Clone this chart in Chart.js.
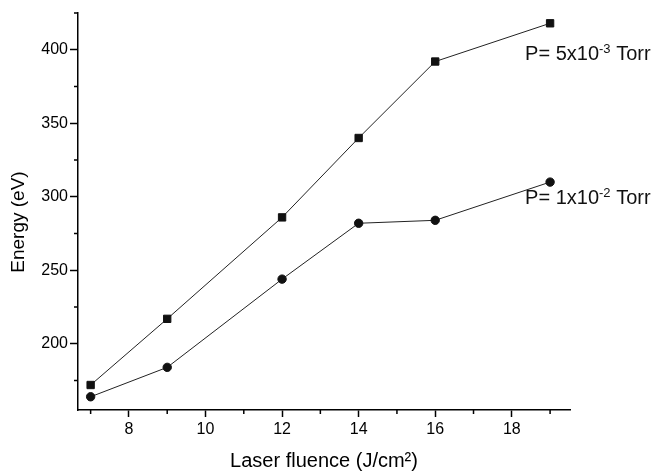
<!DOCTYPE html>
<html>
<head>
<meta charset="utf-8">
<script src="https://cdn.jsdelivr.net/npm/chart.js@4"></script>
<style>
    html, body { margin: 0; padding: 0; background: #fff; }
</style>
</head>
<body>
<canvas id="energyChart" width="658" height="471"></canvas>
<script>
const fluence = [7, 9, 12, 14, 16, 19];
const energyLowP = [172, 217, 286, 340, 392, 418];
const energyHighP = [164, 184, 244, 282, 284, 310];

const xMajorTicks = [8, 10, 12, 14, 16, 18];
const xMinorTicks = [7, 9, 11, 13, 15, 17, 19];
const yMajorTicks = [200, 250, 300, 350, 400];
const yMinorTicks = [175, 225, 275, 325, 375, 425];

// label text: base, exponent, unit
const pressureBase = ['P= 5x10', 'P= 1x10'];
const pressureExp = ['-3', '-2'];
const pressureUnit = ' Torr';

const FONT = '"Liberation Sans", Arial, sans-serif';

// small ticks between the labelled ones
const minorTicks = {
    id: 'minorTicks',
    afterDraw(chart) {
        const { ctx, scales: { x, y } } = chart;
        ctx.save();
        ctx.strokeStyle = '#000';
        ctx.lineWidth = 1.5;
        ctx.beginPath();
        xMinorTicks.forEach(v => {
            const px = x.getPixelForValue(v);
            ctx.moveTo(px, x.top);
            ctx.lineTo(px, x.top + 4);
        });
        yMinorTicks.forEach(v => {
            const py = y.getPixelForValue(v);
            ctx.moveTo(y.right, py);
            ctx.lineTo(y.right - 4, py);
        });
        ctx.stroke();
        ctx.restore();
    }
};

// "P= 5x10^-3 Torr" labels under the last point of each series
const pressureLabels = {
    id: 'pressureLabels',
    afterDatasetsDraw(chart) {
        const { ctx, scales: { x, y } } = chart;
        const drop = [37, 22];
        ctx.save();
        ctx.fillStyle = '#111';
        ctx.textBaseline = 'alphabetic';
        chart.data.datasets.forEach((ds, i) => {
            const last = ds.data.length - 1;
            let px = x.getPixelForValue(fluence[last]) - 25;
            const py = y.getPixelForValue(ds.data[last]) + drop[i];
            ctx.font = '20px ' + FONT;
            ctx.fillText(pressureBase[i], px, py);
            px += ctx.measureText(pressureBase[i]).width;
            ctx.font = '13px ' + FONT;
            ctx.fillText(pressureExp[i], px, py - 7);
            px += ctx.measureText(pressureExp[i]).width;
            ctx.font = '20px ' + FONT;
            ctx.fillText(pressureUnit, px, py);
        });
        ctx.restore();
    }
};

const ctx = document.getElementById('energyChart').getContext('2d');
new Chart(ctx, {
    type: 'line',
    data: {
        labels: fluence,
        datasets: [
            {
                label: 'P= 5x10-3 Torr',
                data: energyLowP,
                borderColor: '#222',
                borderWidth: 1,
                pointStyle: 'rect',
                pointRadius: 5.2,
                pointBackgroundColor: '#111',
                pointBorderColor: '#111',
                pointBorderWidth: 1,
                tension: 0
            },
            {
                label: 'P= 1x10-2 Torr',
                data: energyHighP,
                borderColor: '#222',
                borderWidth: 1,
                pointStyle: 'circle',
                pointRadius: 4.2,
                pointBackgroundColor: '#111',
                pointBorderColor: '#111',
                pointBorderWidth: 1,
                tension: 0
            }
        ]
    },
    options: {
        responsive: false,
        animation: false,
        layout: { padding: { top: 13, right: 88, left: 0, bottom: 0 } },
        plugins: {
            legend: { display: false },
            tooltip: { enabled: false }
        },
        scales: {
            x: {
                type: 'linear',
                min: 6.67,
                max: 19.52,
                afterBuildTicks: axis => { axis.ticks = xMajorTicks.map(v => ({ value: v })); },
                afterFit: axis => { axis.height = 61; },
                grid: {
                    drawOnChartArea: false,
                    tickLength: 7,
                    tickWidth: 1.5,
                    tickColor: '#000'
                },
                border: { display: true, color: '#000', width: 1.5 },
                ticks: {
                    color: '#000',
                    padding: 3,
                    maxRotation: 0,
                    font: { family: FONT, size: 16 }
                },
                title: {
                    display: true,
                    text: 'Laser fluence (J/cm²)',
                    color: '#000',
                    padding: { top: 0, bottom: -2 },
                    font: { family: FONT, size: 20 }
                }
            },
            y: {
                min: 155,
                max: 425,
                afterBuildTicks: axis => { axis.ticks = yMajorTicks.map(v => ({ value: v })); },
                afterFit: axis => { axis.width = 78; },
                grid: {
                    drawOnChartArea: false,
                    tickLength: 8,
                    tickWidth: 1.5,
                    tickColor: '#000'
                },
                border: { display: true, color: '#000', width: 1.5 },
                ticks: {
                    color: '#000',
                    padding: 2,
                    font: { family: FONT, size: 16 }
                },
                title: {
                    display: true,
                    // trailing spaces push the centred title down a little
                    text: 'Energy (eV)    ',
                    color: '#000',
                    padding: { top: 7, bottom: 0 },
                    font: { family: FONT, size: 19 }
                }
            }
        }
    },
    plugins: [minorTicks, pressureLabels]
});
</script>
</body>
</html>
